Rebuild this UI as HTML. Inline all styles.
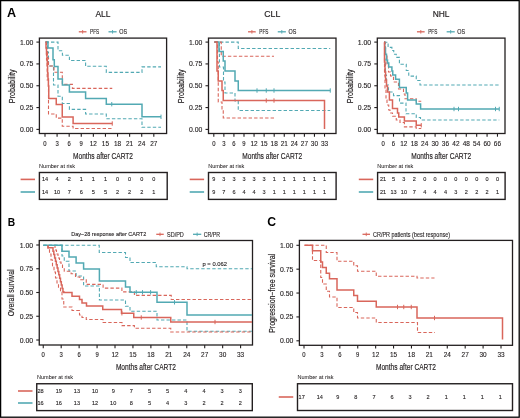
<!DOCTYPE html>
<html><head><meta charset="utf-8"><style>
html,body{margin:0;padding:0;background:#fff;width:520px;height:418px;overflow:hidden;}
body{position:relative;font-family:"Liberation Sans", sans-serif;}
svg{will-change:transform;}
</style></head><body>
<svg width="520" height="418" viewBox="0 0 520 418" style="position:absolute;left:0;top:0">
<g font-family='"Liberation Sans", sans-serif'>
<rect x="0.6" y="0.6" width="518.6" height="416.6" fill="none" stroke="#000" stroke-width="1.3"/>
<text x="7.1" y="13.0" font-size="12.0" text-anchor="start" font-weight="bold" fill="#000" stroke="#000" stroke-width="0" textLength="9.1" lengthAdjust="spacingAndGlyphs" dominant-baseline="central">A</text>
<text x="7.7" y="221.7" font-size="11.6" text-anchor="start" font-weight="bold" fill="#000" stroke="#000" stroke-width="0" textLength="7.4" lengthAdjust="spacingAndGlyphs" dominant-baseline="central">B</text>
<text x="267.2" y="221.6" font-size="12.2" text-anchor="start" font-weight="bold" fill="#000" stroke="#000" stroke-width="0" dominant-baseline="central">C</text>
<text x="103.0" y="14.3" font-size="8.8" text-anchor="middle" font-weight="normal" fill="#231f20" stroke="#231f20" stroke-width="0.18" textLength="15" lengthAdjust="spacingAndGlyphs" dominant-baseline="central">ALL</text>
<line x1="78.8" y1="31.8" x2="86.5" y2="31.8" stroke="#d9665b" stroke-width="1.3"/>
<line x1="82.65" y1="30.0" x2="82.65" y2="33.6" stroke="#d9665b" stroke-width="0.9"/>
<text x="90.0" y="31.8" font-size="6.6" text-anchor="start" font-weight="normal" fill="#231f20" stroke="#231f20" stroke-width="0.12" textLength="9.2" lengthAdjust="spacingAndGlyphs" dominant-baseline="central">PFS</text>
<line x1="108.5" y1="31.8" x2="116.6" y2="31.8" stroke="#52a9b3" stroke-width="1.3"/>
<line x1="112.55" y1="30.0" x2="112.55" y2="33.6" stroke="#52a9b3" stroke-width="0.9"/>
<text x="119.2" y="31.8" font-size="6.6" text-anchor="start" font-weight="normal" fill="#231f20" stroke="#231f20" stroke-width="0.12" textLength="7.8" lengthAdjust="spacingAndGlyphs" dominant-baseline="central">OS</text>
<rect x="39.4" y="38.1" width="127.19999999999999" height="95.4" fill="none" stroke="#231f20" stroke-width="1.3"/>
<line x1="36.4" y1="42.1" x2="39.4" y2="42.1" stroke="#231f20" stroke-width="1.1"/>
<text x="33.3" y="42.1" font-size="6.3" text-anchor="end" font-weight="normal" fill="#231f20" stroke="#231f20" stroke-width="0.12" textLength="13.4" lengthAdjust="spacingAndGlyphs" dominant-baseline="central">1.00</text>
<line x1="36.4" y1="63.925000000000004" x2="39.4" y2="63.925000000000004" stroke="#231f20" stroke-width="1.1"/>
<text x="33.3" y="63.925000000000004" font-size="6.3" text-anchor="end" font-weight="normal" fill="#231f20" stroke="#231f20" stroke-width="0.12" textLength="13.4" lengthAdjust="spacingAndGlyphs" dominant-baseline="central">0.75</text>
<line x1="36.4" y1="85.75" x2="39.4" y2="85.75" stroke="#231f20" stroke-width="1.1"/>
<text x="33.3" y="85.75" font-size="6.3" text-anchor="end" font-weight="normal" fill="#231f20" stroke="#231f20" stroke-width="0.12" textLength="13.4" lengthAdjust="spacingAndGlyphs" dominant-baseline="central">0.50</text>
<line x1="36.4" y1="107.57500000000002" x2="39.4" y2="107.57500000000002" stroke="#231f20" stroke-width="1.1"/>
<text x="33.3" y="107.57500000000002" font-size="6.3" text-anchor="end" font-weight="normal" fill="#231f20" stroke="#231f20" stroke-width="0.12" textLength="13.4" lengthAdjust="spacingAndGlyphs" dominant-baseline="central">0.25</text>
<line x1="36.4" y1="129.4" x2="39.4" y2="129.4" stroke="#231f20" stroke-width="1.1"/>
<text x="33.3" y="129.4" font-size="6.3" text-anchor="end" font-weight="normal" fill="#231f20" stroke="#231f20" stroke-width="0.12" textLength="13.4" lengthAdjust="spacingAndGlyphs" dominant-baseline="central">0.00</text>
<line x1="45.0" y1="133.5" x2="45.0" y2="136.7" stroke="#231f20" stroke-width="1.1"/>
<text x="45.0" y="143.3" font-size="6.3" text-anchor="middle" font-weight="normal" fill="#231f20" stroke="#231f20" stroke-width="0.12" textLength="3.3" lengthAdjust="spacingAndGlyphs" dominant-baseline="central">0</text>
<line x1="57.09" y1="133.5" x2="57.09" y2="136.7" stroke="#231f20" stroke-width="1.1"/>
<text x="57.09" y="143.3" font-size="6.3" text-anchor="middle" font-weight="normal" fill="#231f20" stroke="#231f20" stroke-width="0.12" textLength="3.3" lengthAdjust="spacingAndGlyphs" dominant-baseline="central">3</text>
<line x1="69.18" y1="133.5" x2="69.18" y2="136.7" stroke="#231f20" stroke-width="1.1"/>
<text x="69.18" y="143.3" font-size="6.3" text-anchor="middle" font-weight="normal" fill="#231f20" stroke="#231f20" stroke-width="0.12" textLength="3.3" lengthAdjust="spacingAndGlyphs" dominant-baseline="central">6</text>
<line x1="81.27000000000001" y1="133.5" x2="81.27000000000001" y2="136.7" stroke="#231f20" stroke-width="1.1"/>
<text x="81.27000000000001" y="143.3" font-size="6.3" text-anchor="middle" font-weight="normal" fill="#231f20" stroke="#231f20" stroke-width="0.12" textLength="3.3" lengthAdjust="spacingAndGlyphs" dominant-baseline="central">9</text>
<line x1="93.36" y1="133.5" x2="93.36" y2="136.7" stroke="#231f20" stroke-width="1.1"/>
<text x="93.36" y="143.3" font-size="6.3" text-anchor="middle" font-weight="normal" fill="#231f20" stroke="#231f20" stroke-width="0.12" textLength="7.2" lengthAdjust="spacingAndGlyphs" dominant-baseline="central">12</text>
<line x1="105.45" y1="133.5" x2="105.45" y2="136.7" stroke="#231f20" stroke-width="1.1"/>
<text x="105.45" y="143.3" font-size="6.3" text-anchor="middle" font-weight="normal" fill="#231f20" stroke="#231f20" stroke-width="0.12" textLength="7.2" lengthAdjust="spacingAndGlyphs" dominant-baseline="central">15</text>
<line x1="117.54" y1="133.5" x2="117.54" y2="136.7" stroke="#231f20" stroke-width="1.1"/>
<text x="117.54" y="143.3" font-size="6.3" text-anchor="middle" font-weight="normal" fill="#231f20" stroke="#231f20" stroke-width="0.12" textLength="7.2" lengthAdjust="spacingAndGlyphs" dominant-baseline="central">18</text>
<line x1="129.63" y1="133.5" x2="129.63" y2="136.7" stroke="#231f20" stroke-width="1.1"/>
<text x="129.63" y="143.3" font-size="6.3" text-anchor="middle" font-weight="normal" fill="#231f20" stroke="#231f20" stroke-width="0.12" textLength="7.2" lengthAdjust="spacingAndGlyphs" dominant-baseline="central">21</text>
<line x1="141.72" y1="133.5" x2="141.72" y2="136.7" stroke="#231f20" stroke-width="1.1"/>
<text x="141.72" y="143.3" font-size="6.3" text-anchor="middle" font-weight="normal" fill="#231f20" stroke="#231f20" stroke-width="0.12" textLength="7.2" lengthAdjust="spacingAndGlyphs" dominant-baseline="central">24</text>
<line x1="153.81" y1="133.5" x2="153.81" y2="136.7" stroke="#231f20" stroke-width="1.1"/>
<text x="153.81" y="143.3" font-size="6.3" text-anchor="middle" font-weight="normal" fill="#231f20" stroke="#231f20" stroke-width="0.12" textLength="7.2" lengthAdjust="spacingAndGlyphs" dominant-baseline="central">27</text>
<text x="103.0" y="155.4" font-size="9.7" text-anchor="middle" font-weight="normal" fill="#231f20" stroke="#231f20" stroke-width="0.18" textLength="60" lengthAdjust="spacingAndGlyphs" dominant-baseline="central">Months after CART2</text>
<text x="12.2" y="86.3" font-size="8.2" text-anchor="middle" font-weight="normal" fill="#231f20" stroke="#231f20" stroke-width="0.18" textLength="33.7" lengthAdjust="spacingAndGlyphs" transform="rotate(-90 12.2 86.3)" dominant-baseline="central">Probability</text>
<text x="272.25" y="14.3" font-size="8.8" text-anchor="middle" font-weight="normal" fill="#231f20" stroke="#231f20" stroke-width="0.18" textLength="16" lengthAdjust="spacingAndGlyphs" dominant-baseline="central">CLL</text>
<line x1="248.05" y1="31.8" x2="255.75" y2="31.8" stroke="#d9665b" stroke-width="1.3"/>
<line x1="251.9" y1="30.0" x2="251.9" y2="33.6" stroke="#d9665b" stroke-width="0.9"/>
<text x="259.25" y="31.8" font-size="6.6" text-anchor="start" font-weight="normal" fill="#231f20" stroke="#231f20" stroke-width="0.12" textLength="9.2" lengthAdjust="spacingAndGlyphs" dominant-baseline="central">PFS</text>
<line x1="277.75" y1="31.8" x2="285.85" y2="31.8" stroke="#52a9b3" stroke-width="1.3"/>
<line x1="281.8" y1="30.0" x2="281.8" y2="33.6" stroke="#52a9b3" stroke-width="0.9"/>
<text x="288.45" y="31.8" font-size="6.6" text-anchor="start" font-weight="normal" fill="#231f20" stroke="#231f20" stroke-width="0.12" textLength="7.8" lengthAdjust="spacingAndGlyphs" dominant-baseline="central">OS</text>
<rect x="208.5" y="38.1" width="127.5" height="95.4" fill="none" stroke="#231f20" stroke-width="1.3"/>
<line x1="205.5" y1="42.1" x2="208.5" y2="42.1" stroke="#231f20" stroke-width="1.1"/>
<text x="202.4" y="42.1" font-size="6.3" text-anchor="end" font-weight="normal" fill="#231f20" stroke="#231f20" stroke-width="0.12" textLength="13.4" lengthAdjust="spacingAndGlyphs" dominant-baseline="central">1.00</text>
<line x1="205.5" y1="63.925000000000004" x2="208.5" y2="63.925000000000004" stroke="#231f20" stroke-width="1.1"/>
<text x="202.4" y="63.925000000000004" font-size="6.3" text-anchor="end" font-weight="normal" fill="#231f20" stroke="#231f20" stroke-width="0.12" textLength="13.4" lengthAdjust="spacingAndGlyphs" dominant-baseline="central">0.75</text>
<line x1="205.5" y1="85.75" x2="208.5" y2="85.75" stroke="#231f20" stroke-width="1.1"/>
<text x="202.4" y="85.75" font-size="6.3" text-anchor="end" font-weight="normal" fill="#231f20" stroke="#231f20" stroke-width="0.12" textLength="13.4" lengthAdjust="spacingAndGlyphs" dominant-baseline="central">0.50</text>
<line x1="205.5" y1="107.57500000000002" x2="208.5" y2="107.57500000000002" stroke="#231f20" stroke-width="1.1"/>
<text x="202.4" y="107.57500000000002" font-size="6.3" text-anchor="end" font-weight="normal" fill="#231f20" stroke="#231f20" stroke-width="0.12" textLength="13.4" lengthAdjust="spacingAndGlyphs" dominant-baseline="central">0.25</text>
<line x1="205.5" y1="129.4" x2="208.5" y2="129.4" stroke="#231f20" stroke-width="1.1"/>
<text x="202.4" y="129.4" font-size="6.3" text-anchor="end" font-weight="normal" fill="#231f20" stroke="#231f20" stroke-width="0.12" textLength="13.4" lengthAdjust="spacingAndGlyphs" dominant-baseline="central">0.00</text>
<line x1="213.8" y1="133.5" x2="213.8" y2="136.7" stroke="#231f20" stroke-width="1.1"/>
<text x="213.8" y="143.3" font-size="6.3" text-anchor="middle" font-weight="normal" fill="#231f20" stroke="#231f20" stroke-width="0.12" textLength="3.3" lengthAdjust="spacingAndGlyphs" dominant-baseline="central">0</text>
<line x1="223.865" y1="133.5" x2="223.865" y2="136.7" stroke="#231f20" stroke-width="1.1"/>
<text x="223.865" y="143.3" font-size="6.3" text-anchor="middle" font-weight="normal" fill="#231f20" stroke="#231f20" stroke-width="0.12" textLength="3.3" lengthAdjust="spacingAndGlyphs" dominant-baseline="central">3</text>
<line x1="233.93" y1="133.5" x2="233.93" y2="136.7" stroke="#231f20" stroke-width="1.1"/>
<text x="233.93" y="143.3" font-size="6.3" text-anchor="middle" font-weight="normal" fill="#231f20" stroke="#231f20" stroke-width="0.12" textLength="3.3" lengthAdjust="spacingAndGlyphs" dominant-baseline="central">6</text>
<line x1="243.995" y1="133.5" x2="243.995" y2="136.7" stroke="#231f20" stroke-width="1.1"/>
<text x="243.995" y="143.3" font-size="6.3" text-anchor="middle" font-weight="normal" fill="#231f20" stroke="#231f20" stroke-width="0.12" textLength="3.3" lengthAdjust="spacingAndGlyphs" dominant-baseline="central">9</text>
<line x1="254.06" y1="133.5" x2="254.06" y2="136.7" stroke="#231f20" stroke-width="1.1"/>
<text x="254.06" y="143.3" font-size="6.3" text-anchor="middle" font-weight="normal" fill="#231f20" stroke="#231f20" stroke-width="0.12" textLength="7.2" lengthAdjust="spacingAndGlyphs" dominant-baseline="central">12</text>
<line x1="264.125" y1="133.5" x2="264.125" y2="136.7" stroke="#231f20" stroke-width="1.1"/>
<text x="264.125" y="143.3" font-size="6.3" text-anchor="middle" font-weight="normal" fill="#231f20" stroke="#231f20" stroke-width="0.12" textLength="7.2" lengthAdjust="spacingAndGlyphs" dominant-baseline="central">15</text>
<line x1="274.19" y1="133.5" x2="274.19" y2="136.7" stroke="#231f20" stroke-width="1.1"/>
<text x="274.19" y="143.3" font-size="6.3" text-anchor="middle" font-weight="normal" fill="#231f20" stroke="#231f20" stroke-width="0.12" textLength="7.2" lengthAdjust="spacingAndGlyphs" dominant-baseline="central">18</text>
<line x1="284.255" y1="133.5" x2="284.255" y2="136.7" stroke="#231f20" stroke-width="1.1"/>
<text x="284.255" y="143.3" font-size="6.3" text-anchor="middle" font-weight="normal" fill="#231f20" stroke="#231f20" stroke-width="0.12" textLength="7.2" lengthAdjust="spacingAndGlyphs" dominant-baseline="central">21</text>
<line x1="294.32" y1="133.5" x2="294.32" y2="136.7" stroke="#231f20" stroke-width="1.1"/>
<text x="294.32" y="143.3" font-size="6.3" text-anchor="middle" font-weight="normal" fill="#231f20" stroke="#231f20" stroke-width="0.12" textLength="7.2" lengthAdjust="spacingAndGlyphs" dominant-baseline="central">24</text>
<line x1="304.385" y1="133.5" x2="304.385" y2="136.7" stroke="#231f20" stroke-width="1.1"/>
<text x="304.385" y="143.3" font-size="6.3" text-anchor="middle" font-weight="normal" fill="#231f20" stroke="#231f20" stroke-width="0.12" textLength="7.2" lengthAdjust="spacingAndGlyphs" dominant-baseline="central">27</text>
<line x1="314.45000000000005" y1="133.5" x2="314.45000000000005" y2="136.7" stroke="#231f20" stroke-width="1.1"/>
<text x="314.45000000000005" y="143.3" font-size="6.3" text-anchor="middle" font-weight="normal" fill="#231f20" stroke="#231f20" stroke-width="0.12" textLength="7.2" lengthAdjust="spacingAndGlyphs" dominant-baseline="central">30</text>
<line x1="324.515" y1="133.5" x2="324.515" y2="136.7" stroke="#231f20" stroke-width="1.1"/>
<text x="324.515" y="143.3" font-size="6.3" text-anchor="middle" font-weight="normal" fill="#231f20" stroke="#231f20" stroke-width="0.12" textLength="7.2" lengthAdjust="spacingAndGlyphs" dominant-baseline="central">33</text>
<text x="272.25" y="155.4" font-size="9.7" text-anchor="middle" font-weight="normal" fill="#231f20" stroke="#231f20" stroke-width="0.18" textLength="60" lengthAdjust="spacingAndGlyphs" dominant-baseline="central">Months after CART2</text>
<text x="181.3" y="86.3" font-size="8.2" text-anchor="middle" font-weight="normal" fill="#231f20" stroke="#231f20" stroke-width="0.18" textLength="33.7" lengthAdjust="spacingAndGlyphs" transform="rotate(-90 181.3 86.3)" dominant-baseline="central">Probability</text>
<text x="441.15" y="14.3" font-size="8.8" text-anchor="middle" font-weight="normal" fill="#231f20" stroke="#231f20" stroke-width="0.18" textLength="16.8" lengthAdjust="spacingAndGlyphs" dominant-baseline="central">NHL</text>
<line x1="416.95" y1="31.8" x2="424.65" y2="31.8" stroke="#d9665b" stroke-width="1.3"/>
<line x1="420.79999999999995" y1="30.0" x2="420.79999999999995" y2="33.6" stroke="#d9665b" stroke-width="0.9"/>
<text x="428.15" y="31.8" font-size="6.6" text-anchor="start" font-weight="normal" fill="#231f20" stroke="#231f20" stroke-width="0.12" textLength="9.2" lengthAdjust="spacingAndGlyphs" dominant-baseline="central">PFS</text>
<line x1="446.65" y1="31.8" x2="454.75" y2="31.8" stroke="#52a9b3" stroke-width="1.3"/>
<line x1="450.7" y1="30.0" x2="450.7" y2="33.6" stroke="#52a9b3" stroke-width="0.9"/>
<text x="457.34999999999997" y="31.8" font-size="6.6" text-anchor="start" font-weight="normal" fill="#231f20" stroke="#231f20" stroke-width="0.12" textLength="7.8" lengthAdjust="spacingAndGlyphs" dominant-baseline="central">OS</text>
<rect x="377.3" y="38.1" width="127.69999999999999" height="95.4" fill="none" stroke="#231f20" stroke-width="1.3"/>
<line x1="374.3" y1="42.1" x2="377.3" y2="42.1" stroke="#231f20" stroke-width="1.1"/>
<text x="371.2" y="42.1" font-size="6.3" text-anchor="end" font-weight="normal" fill="#231f20" stroke="#231f20" stroke-width="0.12" textLength="13.4" lengthAdjust="spacingAndGlyphs" dominant-baseline="central">1.00</text>
<line x1="374.3" y1="63.925000000000004" x2="377.3" y2="63.925000000000004" stroke="#231f20" stroke-width="1.1"/>
<text x="371.2" y="63.925000000000004" font-size="6.3" text-anchor="end" font-weight="normal" fill="#231f20" stroke="#231f20" stroke-width="0.12" textLength="13.4" lengthAdjust="spacingAndGlyphs" dominant-baseline="central">0.75</text>
<line x1="374.3" y1="85.75" x2="377.3" y2="85.75" stroke="#231f20" stroke-width="1.1"/>
<text x="371.2" y="85.75" font-size="6.3" text-anchor="end" font-weight="normal" fill="#231f20" stroke="#231f20" stroke-width="0.12" textLength="13.4" lengthAdjust="spacingAndGlyphs" dominant-baseline="central">0.50</text>
<line x1="374.3" y1="107.57500000000002" x2="377.3" y2="107.57500000000002" stroke="#231f20" stroke-width="1.1"/>
<text x="371.2" y="107.57500000000002" font-size="6.3" text-anchor="end" font-weight="normal" fill="#231f20" stroke="#231f20" stroke-width="0.12" textLength="13.4" lengthAdjust="spacingAndGlyphs" dominant-baseline="central">0.25</text>
<line x1="374.3" y1="129.4" x2="377.3" y2="129.4" stroke="#231f20" stroke-width="1.1"/>
<text x="371.2" y="129.4" font-size="6.3" text-anchor="end" font-weight="normal" fill="#231f20" stroke="#231f20" stroke-width="0.12" textLength="13.4" lengthAdjust="spacingAndGlyphs" dominant-baseline="central">0.00</text>
<line x1="383.1" y1="133.5" x2="383.1" y2="136.7" stroke="#231f20" stroke-width="1.1"/>
<text x="383.1" y="143.3" font-size="6.3" text-anchor="middle" font-weight="normal" fill="#231f20" stroke="#231f20" stroke-width="0.12" textLength="3.3" lengthAdjust="spacingAndGlyphs" dominant-baseline="central">0</text>
<line x1="393.49800000000005" y1="133.5" x2="393.49800000000005" y2="136.7" stroke="#231f20" stroke-width="1.1"/>
<text x="393.49800000000005" y="143.3" font-size="6.3" text-anchor="middle" font-weight="normal" fill="#231f20" stroke="#231f20" stroke-width="0.12" textLength="3.3" lengthAdjust="spacingAndGlyphs" dominant-baseline="central">6</text>
<line x1="403.896" y1="133.5" x2="403.896" y2="136.7" stroke="#231f20" stroke-width="1.1"/>
<text x="403.896" y="143.3" font-size="6.3" text-anchor="middle" font-weight="normal" fill="#231f20" stroke="#231f20" stroke-width="0.12" textLength="7.2" lengthAdjust="spacingAndGlyphs" dominant-baseline="central">12</text>
<line x1="414.29400000000004" y1="133.5" x2="414.29400000000004" y2="136.7" stroke="#231f20" stroke-width="1.1"/>
<text x="414.29400000000004" y="143.3" font-size="6.3" text-anchor="middle" font-weight="normal" fill="#231f20" stroke="#231f20" stroke-width="0.12" textLength="7.2" lengthAdjust="spacingAndGlyphs" dominant-baseline="central">18</text>
<line x1="424.692" y1="133.5" x2="424.692" y2="136.7" stroke="#231f20" stroke-width="1.1"/>
<text x="424.692" y="143.3" font-size="6.3" text-anchor="middle" font-weight="normal" fill="#231f20" stroke="#231f20" stroke-width="0.12" textLength="7.2" lengthAdjust="spacingAndGlyphs" dominant-baseline="central">24</text>
<line x1="435.09000000000003" y1="133.5" x2="435.09000000000003" y2="136.7" stroke="#231f20" stroke-width="1.1"/>
<text x="435.09000000000003" y="143.3" font-size="6.3" text-anchor="middle" font-weight="normal" fill="#231f20" stroke="#231f20" stroke-width="0.12" textLength="7.2" lengthAdjust="spacingAndGlyphs" dominant-baseline="central">30</text>
<line x1="445.48800000000006" y1="133.5" x2="445.48800000000006" y2="136.7" stroke="#231f20" stroke-width="1.1"/>
<text x="445.48800000000006" y="143.3" font-size="6.3" text-anchor="middle" font-weight="normal" fill="#231f20" stroke="#231f20" stroke-width="0.12" textLength="7.2" lengthAdjust="spacingAndGlyphs" dominant-baseline="central">36</text>
<line x1="455.886" y1="133.5" x2="455.886" y2="136.7" stroke="#231f20" stroke-width="1.1"/>
<text x="455.886" y="143.3" font-size="6.3" text-anchor="middle" font-weight="normal" fill="#231f20" stroke="#231f20" stroke-width="0.12" textLength="7.2" lengthAdjust="spacingAndGlyphs" dominant-baseline="central">42</text>
<line x1="466.284" y1="133.5" x2="466.284" y2="136.7" stroke="#231f20" stroke-width="1.1"/>
<text x="466.284" y="143.3" font-size="6.3" text-anchor="middle" font-weight="normal" fill="#231f20" stroke="#231f20" stroke-width="0.12" textLength="7.2" lengthAdjust="spacingAndGlyphs" dominant-baseline="central">48</text>
<line x1="476.682" y1="133.5" x2="476.682" y2="136.7" stroke="#231f20" stroke-width="1.1"/>
<text x="476.682" y="143.3" font-size="6.3" text-anchor="middle" font-weight="normal" fill="#231f20" stroke="#231f20" stroke-width="0.12" textLength="7.2" lengthAdjust="spacingAndGlyphs" dominant-baseline="central">54</text>
<line x1="487.08000000000004" y1="133.5" x2="487.08000000000004" y2="136.7" stroke="#231f20" stroke-width="1.1"/>
<text x="487.08000000000004" y="143.3" font-size="6.3" text-anchor="middle" font-weight="normal" fill="#231f20" stroke="#231f20" stroke-width="0.12" textLength="7.2" lengthAdjust="spacingAndGlyphs" dominant-baseline="central">60</text>
<line x1="497.478" y1="133.5" x2="497.478" y2="136.7" stroke="#231f20" stroke-width="1.1"/>
<text x="497.478" y="143.3" font-size="6.3" text-anchor="middle" font-weight="normal" fill="#231f20" stroke="#231f20" stroke-width="0.12" textLength="7.2" lengthAdjust="spacingAndGlyphs" dominant-baseline="central">66</text>
<text x="441.15" y="155.4" font-size="9.7" text-anchor="middle" font-weight="normal" fill="#231f20" stroke="#231f20" stroke-width="0.18" textLength="60" lengthAdjust="spacingAndGlyphs" dominant-baseline="central">Months after CART2</text>
<text x="350.1" y="86.3" font-size="8.2" text-anchor="middle" font-weight="normal" fill="#231f20" stroke="#231f20" stroke-width="0.18" textLength="33.7" lengthAdjust="spacingAndGlyphs" transform="rotate(-90 350.1 86.3)" dominant-baseline="central">Probability</text>
<path d="M45.5,42.1 H47.5 V52 H48.5 V66 H53.5 V85 H58 V96.3 H62.3 V103.5 H69.4 V109.4 H85.6 V114 H106.3 V118.7 H142 V127.3 H161" fill="none" stroke="#52a9b3" stroke-width="1.1" stroke-dasharray="3.4 2.1"/>
<path d="M45.5,42.1 H58 V50.75 H62.4 V55.2 H69.4 V60.5 H85.6 V66.3 H106.3 V72.4 H142 V66.9 H161" fill="none" stroke="#52a9b3" stroke-width="1.1" stroke-dasharray="3.4 2.1"/>
<path d="M46,42.1 H46.5 V50 H47.5 V58 H48.5 V66 H54 V72.2 H62.3 V84.4 H72.4 V88.4 H112.25" fill="none" stroke="#d9665b" stroke-width="1.1" stroke-dasharray="3.4 2.1"/>
<path d="M46,42.1 H46.5 V60 H47.2 V80 H48.5 V114 H56.25 V118.1 H62.25 V126.25 H73.1 V128.5 H112.25" fill="none" stroke="#d9665b" stroke-width="1.1" stroke-dasharray="3.4 2.1"/>
<path d="M45.5,42.1 H48 V48.1 H53 V59.8 H54.3 V66.6 H58 V79 H62.4 V85 H69.4 V92.1 H85.6 V98.5 H106.3 V104.2 H142 V116.8 H161" fill="none" stroke="#52a9b3" stroke-width="1.5"/>
<line x1="111.75" y1="102.0" x2="111.75" y2="106.4" stroke="#52a9b3" stroke-width="1.0"/>
<line x1="161" y1="114.6" x2="161" y2="119.0" stroke="#52a9b3" stroke-width="1.0"/>
<path d="M45.5,42.1 H46 V48 H46.5 V54 H47 V60 H47.3 V66 H47.6 V73 H48 V79 H48.4 V86 H48.75 V98.5 H56.25 V104.4 H62.25 V117.1 H73.1 V123.5 H112.25" fill="none" stroke="#d9665b" stroke-width="1.5"/>
<line x1="112.25" y1="121.3" x2="112.25" y2="125.7" stroke="#d9665b" stroke-width="1.0"/>
<path d="M214.5,42.1 H219.4 V67 H223.5 V82 H225 V93 H235 V101 H238.25 V110.5 H330.25" fill="none" stroke="#52a9b3" stroke-width="1.1" stroke-dasharray="3.4 2.1"/>
<path d="M214.5,42.1 H238.25 V48.5 H330.25" fill="none" stroke="#52a9b3" stroke-width="1.1" stroke-dasharray="3.4 2.1"/>
<path d="M214.5,42.1 H221.25 V56.2 H274" fill="none" stroke="#d9665b" stroke-width="1.1" stroke-dasharray="3.4 2.1"/>
<path d="M214.5,42.1 H217.5 V62 H218.25 V102 H222 V110 H223.25 V118 H274" fill="none" stroke="#d9665b" stroke-width="1.1" stroke-dasharray="3.4 2.1"/>
<path d="M214.5,42.1 H219 V51.5 H223.25 V61 H225 V71 H235 V81 H238.25 V90.5 H330.25" fill="none" stroke="#52a9b3" stroke-width="1.5"/>
<line x1="257" y1="88.3" x2="257" y2="92.7" stroke="#52a9b3" stroke-width="1.0"/>
<line x1="266.25" y1="88.3" x2="266.25" y2="92.7" stroke="#52a9b3" stroke-width="1.0"/>
<line x1="274" y1="88.3" x2="274" y2="92.7" stroke="#52a9b3" stroke-width="1.0"/>
<line x1="330.25" y1="88.3" x2="330.25" y2="92.7" stroke="#52a9b3" stroke-width="1.0"/>
<path d="M214.5,42.1 H217 V71 H218.25 V81 H222 V90.5 H223.25 V100.5 H324.5 V129" fill="none" stroke="#d9665b" stroke-width="1.5"/>
<line x1="266.25" y1="98.3" x2="266.25" y2="102.7" stroke="#d9665b" stroke-width="1.0"/>
<line x1="274" y1="98.3" x2="274" y2="102.7" stroke="#d9665b" stroke-width="1.0"/>
<path d="M384,42.2 H384.75 V60 H385.5 V75 H386.5 V85 H388.5 V92 H393.5 V95.6 H399.5 V103.1 H406 V113.75 H416.25 V117.5 H420.5 V120 H499.25" fill="none" stroke="#52a9b3" stroke-width="1.1" stroke-dasharray="3.4 2.1"/>
<path d="M384,42.2 H388.1 V47.4 H391.9 V50.5 H393.75 V54.25 H396.25 V57.4 H399.4 V64.25 H406.25 V70.5 H408.75 V76.1 H416.25 V80.5 H420 V85 H499.25" fill="none" stroke="#52a9b3" stroke-width="1.1" stroke-dasharray="3.4 2.1"/>
<path d="M384,42.2 H385.5 V56 H387 V66 H388.5 V72 H390.5 V76 H393.5 V82 H398.5 V89 H403.5 V94 H405 V98.75 H416.25 V101.25 H421.25" fill="none" stroke="#d9665b" stroke-width="1.1" stroke-dasharray="3.4 2.1"/>
<path d="M384,42.2 H384.5 V75 H385 V90 H386 V100 H387 V105 H388.75 V110 H390 V113 H392.5 V116.25 H396.25 V120 H400 V122.5 H404.4 V126.9 H416.25 V128.5 H421.25" fill="none" stroke="#d9665b" stroke-width="1.1" stroke-dasharray="3.4 2.1"/>
<path d="M384,42.2 H384.75 V48 H385.5 V54.25 H386.5 V60 H387.5 V63 H388.75 V67 H391.9 V71.1 H392.75 V75 H395.6 V79.25 H399.4 V87.5 H406.25 V93 H407.6 V100 H416.25 V104.1 H420.6 V109 H499.25" fill="none" stroke="#52a9b3" stroke-width="1.5"/>
<line x1="454" y1="106.8" x2="454" y2="111.2" stroke="#52a9b3" stroke-width="1.0"/>
<line x1="458.5" y1="106.8" x2="458.5" y2="111.2" stroke="#52a9b3" stroke-width="1.0"/>
<line x1="495.5" y1="106.8" x2="495.5" y2="111.2" stroke="#52a9b3" stroke-width="1.0"/>
<line x1="499.25" y1="106.8" x2="499.25" y2="111.2" stroke="#52a9b3" stroke-width="1.0"/>
<path d="M384,42.2 H384.5 V62 H385 V72 H385.6 V80 H386.5 V86 H387.5 V92 H389.4 V100 H392.5 V108.5 H397.5 V113 H398.75 V116.9 H404.4 V121 H416.25 V125.25 H421.25" fill="none" stroke="#d9665b" stroke-width="1.5"/>
<line x1="421.25" y1="123.05" x2="421.25" y2="127.45" stroke="#d9665b" stroke-width="1.0"/>
<text x="39.1" y="166.3" font-size="5.4" text-anchor="start" font-weight="normal" fill="#231f20" stroke="#231f20" stroke-width="0.04" textLength="36" lengthAdjust="spacingAndGlyphs" dominant-baseline="central">Number at risk</text>
<rect x="39.4" y="172.5" width="127.79999999999998" height="26.900000000000006" fill="none" stroke="#231f20" stroke-width="1.4"/>
<line x1="20.599999999999998" y1="179.4" x2="35.0" y2="179.4" stroke="#d9665b" stroke-width="1.6"/>
<text x="45.0" y="178.8" font-size="6.2" text-anchor="middle" font-weight="normal" fill="#231f20" stroke="#231f20" stroke-width="0.12" textLength="6.2" lengthAdjust="spacingAndGlyphs" dominant-baseline="central">14</text>
<text x="57.09" y="178.8" font-size="6.2" text-anchor="middle" font-weight="normal" fill="#231f20" stroke="#231f20" stroke-width="0.12" textLength="3.1" lengthAdjust="spacingAndGlyphs" dominant-baseline="central">4</text>
<text x="69.18" y="178.8" font-size="6.2" text-anchor="middle" font-weight="normal" fill="#231f20" stroke="#231f20" stroke-width="0.12" textLength="3.1" lengthAdjust="spacingAndGlyphs" dominant-baseline="central">2</text>
<text x="81.27000000000001" y="178.8" font-size="6.2" text-anchor="middle" font-weight="normal" fill="#231f20" stroke="#231f20" stroke-width="0.12" textLength="3.1" lengthAdjust="spacingAndGlyphs" dominant-baseline="central">1</text>
<text x="93.36" y="178.8" font-size="6.2" text-anchor="middle" font-weight="normal" fill="#231f20" stroke="#231f20" stroke-width="0.12" textLength="3.1" lengthAdjust="spacingAndGlyphs" dominant-baseline="central">1</text>
<text x="105.45" y="178.8" font-size="6.2" text-anchor="middle" font-weight="normal" fill="#231f20" stroke="#231f20" stroke-width="0.12" textLength="3.1" lengthAdjust="spacingAndGlyphs" dominant-baseline="central">1</text>
<text x="117.54" y="178.8" font-size="6.2" text-anchor="middle" font-weight="normal" fill="#231f20" stroke="#231f20" stroke-width="0.12" textLength="3.1" lengthAdjust="spacingAndGlyphs" dominant-baseline="central">0</text>
<text x="129.63" y="178.8" font-size="6.2" text-anchor="middle" font-weight="normal" fill="#231f20" stroke="#231f20" stroke-width="0.12" textLength="3.1" lengthAdjust="spacingAndGlyphs" dominant-baseline="central">0</text>
<text x="141.72" y="178.8" font-size="6.2" text-anchor="middle" font-weight="normal" fill="#231f20" stroke="#231f20" stroke-width="0.12" textLength="3.1" lengthAdjust="spacingAndGlyphs" dominant-baseline="central">0</text>
<text x="153.81" y="178.8" font-size="6.2" text-anchor="middle" font-weight="normal" fill="#231f20" stroke="#231f20" stroke-width="0.12" textLength="3.1" lengthAdjust="spacingAndGlyphs" dominant-baseline="central">0</text>
<line x1="20.599999999999998" y1="192.0" x2="35.0" y2="192.0" stroke="#52a9b3" stroke-width="1.6"/>
<text x="45.0" y="191.4" font-size="6.2" text-anchor="middle" font-weight="normal" fill="#231f20" stroke="#231f20" stroke-width="0.12" textLength="6.2" lengthAdjust="spacingAndGlyphs" dominant-baseline="central">14</text>
<text x="57.09" y="191.4" font-size="6.2" text-anchor="middle" font-weight="normal" fill="#231f20" stroke="#231f20" stroke-width="0.12" textLength="6.2" lengthAdjust="spacingAndGlyphs" dominant-baseline="central">10</text>
<text x="69.18" y="191.4" font-size="6.2" text-anchor="middle" font-weight="normal" fill="#231f20" stroke="#231f20" stroke-width="0.12" textLength="3.1" lengthAdjust="spacingAndGlyphs" dominant-baseline="central">7</text>
<text x="81.27000000000001" y="191.4" font-size="6.2" text-anchor="middle" font-weight="normal" fill="#231f20" stroke="#231f20" stroke-width="0.12" textLength="3.1" lengthAdjust="spacingAndGlyphs" dominant-baseline="central">6</text>
<text x="93.36" y="191.4" font-size="6.2" text-anchor="middle" font-weight="normal" fill="#231f20" stroke="#231f20" stroke-width="0.12" textLength="3.1" lengthAdjust="spacingAndGlyphs" dominant-baseline="central">5</text>
<text x="105.45" y="191.4" font-size="6.2" text-anchor="middle" font-weight="normal" fill="#231f20" stroke="#231f20" stroke-width="0.12" textLength="3.1" lengthAdjust="spacingAndGlyphs" dominant-baseline="central">5</text>
<text x="117.54" y="191.4" font-size="6.2" text-anchor="middle" font-weight="normal" fill="#231f20" stroke="#231f20" stroke-width="0.12" textLength="3.1" lengthAdjust="spacingAndGlyphs" dominant-baseline="central">2</text>
<text x="129.63" y="191.4" font-size="6.2" text-anchor="middle" font-weight="normal" fill="#231f20" stroke="#231f20" stroke-width="0.12" textLength="3.1" lengthAdjust="spacingAndGlyphs" dominant-baseline="central">2</text>
<text x="141.72" y="191.4" font-size="6.2" text-anchor="middle" font-weight="normal" fill="#231f20" stroke="#231f20" stroke-width="0.12" textLength="3.1" lengthAdjust="spacingAndGlyphs" dominant-baseline="central">2</text>
<text x="153.81" y="191.4" font-size="6.2" text-anchor="middle" font-weight="normal" fill="#231f20" stroke="#231f20" stroke-width="0.12" textLength="3.1" lengthAdjust="spacingAndGlyphs" dominant-baseline="central">1</text>
<text x="208.2" y="166.3" font-size="5.4" text-anchor="start" font-weight="normal" fill="#231f20" stroke="#231f20" stroke-width="0.04" textLength="36" lengthAdjust="spacingAndGlyphs" dominant-baseline="central">Number at risk</text>
<rect x="208.5" y="172.5" width="127.60000000000002" height="26.900000000000006" fill="none" stroke="#231f20" stroke-width="1.4"/>
<line x1="189.7" y1="179.4" x2="204.1" y2="179.4" stroke="#d9665b" stroke-width="1.6"/>
<text x="213.8" y="178.8" font-size="6.2" text-anchor="middle" font-weight="normal" fill="#231f20" stroke="#231f20" stroke-width="0.12" textLength="3.1" lengthAdjust="spacingAndGlyphs" dominant-baseline="central">9</text>
<text x="223.865" y="178.8" font-size="6.2" text-anchor="middle" font-weight="normal" fill="#231f20" stroke="#231f20" stroke-width="0.12" textLength="3.1" lengthAdjust="spacingAndGlyphs" dominant-baseline="central">3</text>
<text x="233.93" y="178.8" font-size="6.2" text-anchor="middle" font-weight="normal" fill="#231f20" stroke="#231f20" stroke-width="0.12" textLength="3.1" lengthAdjust="spacingAndGlyphs" dominant-baseline="central">3</text>
<text x="243.995" y="178.8" font-size="6.2" text-anchor="middle" font-weight="normal" fill="#231f20" stroke="#231f20" stroke-width="0.12" textLength="3.1" lengthAdjust="spacingAndGlyphs" dominant-baseline="central">3</text>
<text x="254.06" y="178.8" font-size="6.2" text-anchor="middle" font-weight="normal" fill="#231f20" stroke="#231f20" stroke-width="0.12" textLength="3.1" lengthAdjust="spacingAndGlyphs" dominant-baseline="central">3</text>
<text x="264.125" y="178.8" font-size="6.2" text-anchor="middle" font-weight="normal" fill="#231f20" stroke="#231f20" stroke-width="0.12" textLength="3.1" lengthAdjust="spacingAndGlyphs" dominant-baseline="central">3</text>
<text x="274.19" y="178.8" font-size="6.2" text-anchor="middle" font-weight="normal" fill="#231f20" stroke="#231f20" stroke-width="0.12" textLength="3.1" lengthAdjust="spacingAndGlyphs" dominant-baseline="central">1</text>
<text x="284.255" y="178.8" font-size="6.2" text-anchor="middle" font-weight="normal" fill="#231f20" stroke="#231f20" stroke-width="0.12" textLength="3.1" lengthAdjust="spacingAndGlyphs" dominant-baseline="central">1</text>
<text x="294.32" y="178.8" font-size="6.2" text-anchor="middle" font-weight="normal" fill="#231f20" stroke="#231f20" stroke-width="0.12" textLength="3.1" lengthAdjust="spacingAndGlyphs" dominant-baseline="central">1</text>
<text x="304.385" y="178.8" font-size="6.2" text-anchor="middle" font-weight="normal" fill="#231f20" stroke="#231f20" stroke-width="0.12" textLength="3.1" lengthAdjust="spacingAndGlyphs" dominant-baseline="central">1</text>
<text x="314.45000000000005" y="178.8" font-size="6.2" text-anchor="middle" font-weight="normal" fill="#231f20" stroke="#231f20" stroke-width="0.12" textLength="3.1" lengthAdjust="spacingAndGlyphs" dominant-baseline="central">1</text>
<text x="324.515" y="178.8" font-size="6.2" text-anchor="middle" font-weight="normal" fill="#231f20" stroke="#231f20" stroke-width="0.12" textLength="3.1" lengthAdjust="spacingAndGlyphs" dominant-baseline="central">1</text>
<line x1="189.7" y1="192.0" x2="204.1" y2="192.0" stroke="#52a9b3" stroke-width="1.6"/>
<text x="213.8" y="191.4" font-size="6.2" text-anchor="middle" font-weight="normal" fill="#231f20" stroke="#231f20" stroke-width="0.12" textLength="3.1" lengthAdjust="spacingAndGlyphs" dominant-baseline="central">9</text>
<text x="223.865" y="191.4" font-size="6.2" text-anchor="middle" font-weight="normal" fill="#231f20" stroke="#231f20" stroke-width="0.12" textLength="3.1" lengthAdjust="spacingAndGlyphs" dominant-baseline="central">7</text>
<text x="233.93" y="191.4" font-size="6.2" text-anchor="middle" font-weight="normal" fill="#231f20" stroke="#231f20" stroke-width="0.12" textLength="3.1" lengthAdjust="spacingAndGlyphs" dominant-baseline="central">6</text>
<text x="243.995" y="191.4" font-size="6.2" text-anchor="middle" font-weight="normal" fill="#231f20" stroke="#231f20" stroke-width="0.12" textLength="3.1" lengthAdjust="spacingAndGlyphs" dominant-baseline="central">4</text>
<text x="254.06" y="191.4" font-size="6.2" text-anchor="middle" font-weight="normal" fill="#231f20" stroke="#231f20" stroke-width="0.12" textLength="3.1" lengthAdjust="spacingAndGlyphs" dominant-baseline="central">4</text>
<text x="264.125" y="191.4" font-size="6.2" text-anchor="middle" font-weight="normal" fill="#231f20" stroke="#231f20" stroke-width="0.12" textLength="3.1" lengthAdjust="spacingAndGlyphs" dominant-baseline="central">3</text>
<text x="274.19" y="191.4" font-size="6.2" text-anchor="middle" font-weight="normal" fill="#231f20" stroke="#231f20" stroke-width="0.12" textLength="3.1" lengthAdjust="spacingAndGlyphs" dominant-baseline="central">1</text>
<text x="284.255" y="191.4" font-size="6.2" text-anchor="middle" font-weight="normal" fill="#231f20" stroke="#231f20" stroke-width="0.12" textLength="3.1" lengthAdjust="spacingAndGlyphs" dominant-baseline="central">1</text>
<text x="294.32" y="191.4" font-size="6.2" text-anchor="middle" font-weight="normal" fill="#231f20" stroke="#231f20" stroke-width="0.12" textLength="3.1" lengthAdjust="spacingAndGlyphs" dominant-baseline="central">1</text>
<text x="304.385" y="191.4" font-size="6.2" text-anchor="middle" font-weight="normal" fill="#231f20" stroke="#231f20" stroke-width="0.12" textLength="3.1" lengthAdjust="spacingAndGlyphs" dominant-baseline="central">1</text>
<text x="314.45000000000005" y="191.4" font-size="6.2" text-anchor="middle" font-weight="normal" fill="#231f20" stroke="#231f20" stroke-width="0.12" textLength="3.1" lengthAdjust="spacingAndGlyphs" dominant-baseline="central">1</text>
<text x="324.515" y="191.4" font-size="6.2" text-anchor="middle" font-weight="normal" fill="#231f20" stroke="#231f20" stroke-width="0.12" textLength="3.1" lengthAdjust="spacingAndGlyphs" dominant-baseline="central">1</text>
<text x="377.3" y="166.3" font-size="5.4" text-anchor="start" font-weight="normal" fill="#231f20" stroke="#231f20" stroke-width="0.04" textLength="36" lengthAdjust="spacingAndGlyphs" dominant-baseline="central">Number at risk</text>
<rect x="377.6" y="172.5" width="127.5" height="26.900000000000006" fill="none" stroke="#231f20" stroke-width="1.4"/>
<line x1="358.8" y1="179.4" x2="373.20000000000005" y2="179.4" stroke="#d9665b" stroke-width="1.6"/>
<text x="383.1" y="178.8" font-size="6.2" text-anchor="middle" font-weight="normal" fill="#231f20" stroke="#231f20" stroke-width="0.12" textLength="6.2" lengthAdjust="spacingAndGlyphs" dominant-baseline="central">21</text>
<text x="393.49800000000005" y="178.8" font-size="6.2" text-anchor="middle" font-weight="normal" fill="#231f20" stroke="#231f20" stroke-width="0.12" textLength="3.1" lengthAdjust="spacingAndGlyphs" dominant-baseline="central">5</text>
<text x="403.896" y="178.8" font-size="6.2" text-anchor="middle" font-weight="normal" fill="#231f20" stroke="#231f20" stroke-width="0.12" textLength="3.1" lengthAdjust="spacingAndGlyphs" dominant-baseline="central">3</text>
<text x="414.29400000000004" y="178.8" font-size="6.2" text-anchor="middle" font-weight="normal" fill="#231f20" stroke="#231f20" stroke-width="0.12" textLength="3.1" lengthAdjust="spacingAndGlyphs" dominant-baseline="central">2</text>
<text x="424.692" y="178.8" font-size="6.2" text-anchor="middle" font-weight="normal" fill="#231f20" stroke="#231f20" stroke-width="0.12" textLength="3.1" lengthAdjust="spacingAndGlyphs" dominant-baseline="central">0</text>
<text x="435.09000000000003" y="178.8" font-size="6.2" text-anchor="middle" font-weight="normal" fill="#231f20" stroke="#231f20" stroke-width="0.12" textLength="3.1" lengthAdjust="spacingAndGlyphs" dominant-baseline="central">0</text>
<text x="445.48800000000006" y="178.8" font-size="6.2" text-anchor="middle" font-weight="normal" fill="#231f20" stroke="#231f20" stroke-width="0.12" textLength="3.1" lengthAdjust="spacingAndGlyphs" dominant-baseline="central">0</text>
<text x="455.886" y="178.8" font-size="6.2" text-anchor="middle" font-weight="normal" fill="#231f20" stroke="#231f20" stroke-width="0.12" textLength="3.1" lengthAdjust="spacingAndGlyphs" dominant-baseline="central">0</text>
<text x="466.284" y="178.8" font-size="6.2" text-anchor="middle" font-weight="normal" fill="#231f20" stroke="#231f20" stroke-width="0.12" textLength="3.1" lengthAdjust="spacingAndGlyphs" dominant-baseline="central">0</text>
<text x="476.682" y="178.8" font-size="6.2" text-anchor="middle" font-weight="normal" fill="#231f20" stroke="#231f20" stroke-width="0.12" textLength="3.1" lengthAdjust="spacingAndGlyphs" dominant-baseline="central">0</text>
<text x="487.08000000000004" y="178.8" font-size="6.2" text-anchor="middle" font-weight="normal" fill="#231f20" stroke="#231f20" stroke-width="0.12" textLength="3.1" lengthAdjust="spacingAndGlyphs" dominant-baseline="central">0</text>
<text x="497.478" y="178.8" font-size="6.2" text-anchor="middle" font-weight="normal" fill="#231f20" stroke="#231f20" stroke-width="0.12" textLength="3.1" lengthAdjust="spacingAndGlyphs" dominant-baseline="central">0</text>
<line x1="358.8" y1="192.0" x2="373.20000000000005" y2="192.0" stroke="#52a9b3" stroke-width="1.6"/>
<text x="383.1" y="191.4" font-size="6.2" text-anchor="middle" font-weight="normal" fill="#231f20" stroke="#231f20" stroke-width="0.12" textLength="6.2" lengthAdjust="spacingAndGlyphs" dominant-baseline="central">21</text>
<text x="393.49800000000005" y="191.4" font-size="6.2" text-anchor="middle" font-weight="normal" fill="#231f20" stroke="#231f20" stroke-width="0.12" textLength="6.2" lengthAdjust="spacingAndGlyphs" dominant-baseline="central">13</text>
<text x="403.896" y="191.4" font-size="6.2" text-anchor="middle" font-weight="normal" fill="#231f20" stroke="#231f20" stroke-width="0.12" textLength="6.2" lengthAdjust="spacingAndGlyphs" dominant-baseline="central">10</text>
<text x="414.29400000000004" y="191.4" font-size="6.2" text-anchor="middle" font-weight="normal" fill="#231f20" stroke="#231f20" stroke-width="0.12" textLength="3.1" lengthAdjust="spacingAndGlyphs" dominant-baseline="central">7</text>
<text x="424.692" y="191.4" font-size="6.2" text-anchor="middle" font-weight="normal" fill="#231f20" stroke="#231f20" stroke-width="0.12" textLength="3.1" lengthAdjust="spacingAndGlyphs" dominant-baseline="central">4</text>
<text x="435.09000000000003" y="191.4" font-size="6.2" text-anchor="middle" font-weight="normal" fill="#231f20" stroke="#231f20" stroke-width="0.12" textLength="3.1" lengthAdjust="spacingAndGlyphs" dominant-baseline="central">4</text>
<text x="445.48800000000006" y="191.4" font-size="6.2" text-anchor="middle" font-weight="normal" fill="#231f20" stroke="#231f20" stroke-width="0.12" textLength="3.1" lengthAdjust="spacingAndGlyphs" dominant-baseline="central">4</text>
<text x="455.886" y="191.4" font-size="6.2" text-anchor="middle" font-weight="normal" fill="#231f20" stroke="#231f20" stroke-width="0.12" textLength="3.1" lengthAdjust="spacingAndGlyphs" dominant-baseline="central">3</text>
<text x="466.284" y="191.4" font-size="6.2" text-anchor="middle" font-weight="normal" fill="#231f20" stroke="#231f20" stroke-width="0.12" textLength="3.1" lengthAdjust="spacingAndGlyphs" dominant-baseline="central">2</text>
<text x="476.682" y="191.4" font-size="6.2" text-anchor="middle" font-weight="normal" fill="#231f20" stroke="#231f20" stroke-width="0.12" textLength="3.1" lengthAdjust="spacingAndGlyphs" dominant-baseline="central">2</text>
<text x="487.08000000000004" y="191.4" font-size="6.2" text-anchor="middle" font-weight="normal" fill="#231f20" stroke="#231f20" stroke-width="0.12" textLength="3.1" lengthAdjust="spacingAndGlyphs" dominant-baseline="central">2</text>
<text x="497.478" y="191.4" font-size="6.2" text-anchor="middle" font-weight="normal" fill="#231f20" stroke="#231f20" stroke-width="0.12" textLength="3.1" lengthAdjust="spacingAndGlyphs" dominant-baseline="central">1</text>
<rect x="39.25" y="240.5" width="213.25" height="104.5" fill="none" stroke="#231f20" stroke-width="1.3"/>
<line x1="36.25" y1="245.0" x2="39.25" y2="245.0" stroke="#231f20" stroke-width="1.1"/>
<text x="33.15" y="245.0" font-size="6.3" text-anchor="end" font-weight="normal" fill="#231f20" stroke="#231f20" stroke-width="0.12" textLength="13.4" lengthAdjust="spacingAndGlyphs" dominant-baseline="central">1.00</text>
<line x1="36.25" y1="268.75" x2="39.25" y2="268.75" stroke="#231f20" stroke-width="1.1"/>
<text x="33.15" y="268.75" font-size="6.3" text-anchor="end" font-weight="normal" fill="#231f20" stroke="#231f20" stroke-width="0.12" textLength="13.4" lengthAdjust="spacingAndGlyphs" dominant-baseline="central">0.75</text>
<line x1="36.25" y1="292.5" x2="39.25" y2="292.5" stroke="#231f20" stroke-width="1.1"/>
<text x="33.15" y="292.5" font-size="6.3" text-anchor="end" font-weight="normal" fill="#231f20" stroke="#231f20" stroke-width="0.12" textLength="13.4" lengthAdjust="spacingAndGlyphs" dominant-baseline="central">0.50</text>
<line x1="36.25" y1="316.25" x2="39.25" y2="316.25" stroke="#231f20" stroke-width="1.1"/>
<text x="33.15" y="316.25" font-size="6.3" text-anchor="end" font-weight="normal" fill="#231f20" stroke="#231f20" stroke-width="0.12" textLength="13.4" lengthAdjust="spacingAndGlyphs" dominant-baseline="central">0.25</text>
<line x1="36.25" y1="340.0" x2="39.25" y2="340.0" stroke="#231f20" stroke-width="1.1"/>
<text x="33.15" y="340.0" font-size="6.3" text-anchor="end" font-weight="normal" fill="#231f20" stroke="#231f20" stroke-width="0.12" textLength="13.4" lengthAdjust="spacingAndGlyphs" dominant-baseline="central">0.00</text>
<line x1="43.25" y1="345.0" x2="43.25" y2="348.2" stroke="#231f20" stroke-width="1.1"/>
<text x="43.25" y="354.5" font-size="6.3" text-anchor="middle" font-weight="normal" fill="#231f20" stroke="#231f20" stroke-width="0.12" textLength="3.3" lengthAdjust="spacingAndGlyphs" dominant-baseline="central">0</text>
<line x1="61.19" y1="345.0" x2="61.19" y2="348.2" stroke="#231f20" stroke-width="1.1"/>
<text x="61.19" y="354.5" font-size="6.3" text-anchor="middle" font-weight="normal" fill="#231f20" stroke="#231f20" stroke-width="0.12" textLength="3.3" lengthAdjust="spacingAndGlyphs" dominant-baseline="central">3</text>
<line x1="79.13" y1="345.0" x2="79.13" y2="348.2" stroke="#231f20" stroke-width="1.1"/>
<text x="79.13" y="354.5" font-size="6.3" text-anchor="middle" font-weight="normal" fill="#231f20" stroke="#231f20" stroke-width="0.12" textLength="3.3" lengthAdjust="spacingAndGlyphs" dominant-baseline="central">6</text>
<line x1="97.07000000000001" y1="345.0" x2="97.07000000000001" y2="348.2" stroke="#231f20" stroke-width="1.1"/>
<text x="97.07000000000001" y="354.5" font-size="6.3" text-anchor="middle" font-weight="normal" fill="#231f20" stroke="#231f20" stroke-width="0.12" textLength="3.3" lengthAdjust="spacingAndGlyphs" dominant-baseline="central">9</text>
<line x1="115.01" y1="345.0" x2="115.01" y2="348.2" stroke="#231f20" stroke-width="1.1"/>
<text x="115.01" y="354.5" font-size="6.3" text-anchor="middle" font-weight="normal" fill="#231f20" stroke="#231f20" stroke-width="0.12" textLength="7.2" lengthAdjust="spacingAndGlyphs" dominant-baseline="central">12</text>
<line x1="132.95" y1="345.0" x2="132.95" y2="348.2" stroke="#231f20" stroke-width="1.1"/>
<text x="132.95" y="354.5" font-size="6.3" text-anchor="middle" font-weight="normal" fill="#231f20" stroke="#231f20" stroke-width="0.12" textLength="7.2" lengthAdjust="spacingAndGlyphs" dominant-baseline="central">15</text>
<line x1="150.89000000000001" y1="345.0" x2="150.89000000000001" y2="348.2" stroke="#231f20" stroke-width="1.1"/>
<text x="150.89000000000001" y="354.5" font-size="6.3" text-anchor="middle" font-weight="normal" fill="#231f20" stroke="#231f20" stroke-width="0.12" textLength="7.2" lengthAdjust="spacingAndGlyphs" dominant-baseline="central">18</text>
<line x1="168.83" y1="345.0" x2="168.83" y2="348.2" stroke="#231f20" stroke-width="1.1"/>
<text x="168.83" y="354.5" font-size="6.3" text-anchor="middle" font-weight="normal" fill="#231f20" stroke="#231f20" stroke-width="0.12" textLength="7.2" lengthAdjust="spacingAndGlyphs" dominant-baseline="central">21</text>
<line x1="186.77" y1="345.0" x2="186.77" y2="348.2" stroke="#231f20" stroke-width="1.1"/>
<text x="186.77" y="354.5" font-size="6.3" text-anchor="middle" font-weight="normal" fill="#231f20" stroke="#231f20" stroke-width="0.12" textLength="7.2" lengthAdjust="spacingAndGlyphs" dominant-baseline="central">24</text>
<line x1="204.71" y1="345.0" x2="204.71" y2="348.2" stroke="#231f20" stroke-width="1.1"/>
<text x="204.71" y="354.5" font-size="6.3" text-anchor="middle" font-weight="normal" fill="#231f20" stroke="#231f20" stroke-width="0.12" textLength="7.2" lengthAdjust="spacingAndGlyphs" dominant-baseline="central">27</text>
<line x1="222.65" y1="345.0" x2="222.65" y2="348.2" stroke="#231f20" stroke-width="1.1"/>
<text x="222.65" y="354.5" font-size="6.3" text-anchor="middle" font-weight="normal" fill="#231f20" stroke="#231f20" stroke-width="0.12" textLength="7.2" lengthAdjust="spacingAndGlyphs" dominant-baseline="central">30</text>
<line x1="240.59" y1="345.0" x2="240.59" y2="348.2" stroke="#231f20" stroke-width="1.1"/>
<text x="240.59" y="354.5" font-size="6.3" text-anchor="middle" font-weight="normal" fill="#231f20" stroke="#231f20" stroke-width="0.12" textLength="7.2" lengthAdjust="spacingAndGlyphs" dominant-baseline="central">33</text>
<text x="145.875" y="366.0" font-size="9.7" text-anchor="middle" font-weight="normal" fill="#231f20" stroke="#231f20" stroke-width="0.18" textLength="60" lengthAdjust="spacingAndGlyphs" dominant-baseline="central">Months after CART2</text>
<text x="11.6" y="292.85" font-size="8.2" text-anchor="middle" font-weight="normal" fill="#231f20" stroke="#231f20" stroke-width="0.18" textLength="47" lengthAdjust="spacingAndGlyphs" transform="rotate(-90 11.6 292.85)" dominant-baseline="central">Overall survival</text>
<text x="71.25" y="234.3" font-size="6.0" text-anchor="start" font-weight="normal" fill="#231f20" stroke="#231f20" stroke-width="0.12" textLength="75" lengthAdjust="spacingAndGlyphs" dominant-baseline="central">Day−28 response after CART2</text>
<line x1="156.25" y1="234.3" x2="163.75" y2="234.3" stroke="#d9665b" stroke-width="1.3"/>
<line x1="160.0" y1="232.5" x2="160.0" y2="236.10000000000002" stroke="#d9665b" stroke-width="0.9"/>
<text x="167" y="234.3" font-size="6.6" text-anchor="start" font-weight="normal" fill="#231f20" stroke="#231f20" stroke-width="0.12" textLength="16.8" lengthAdjust="spacingAndGlyphs" dominant-baseline="central">SD/PD</text>
<line x1="193" y1="234.3" x2="201.25" y2="234.3" stroke="#52a9b3" stroke-width="1.3"/>
<line x1="197.125" y1="232.5" x2="197.125" y2="236.10000000000002" stroke="#52a9b3" stroke-width="0.9"/>
<text x="203.75" y="234.3" font-size="6.6" text-anchor="start" font-weight="normal" fill="#231f20" stroke="#231f20" stroke-width="0.12" textLength="16.3" lengthAdjust="spacingAndGlyphs" dominant-baseline="central">CR/PR</text>
<text x="202.5" y="263.6" font-size="6.2" text-anchor="start" font-weight="normal" fill="#231f20" stroke="#231f20" stroke-width="0.12" textLength="24.5" lengthAdjust="spacingAndGlyphs" dominant-baseline="central">p = 0.062</text>
<path d="M43.25,245.25 H62 V256 H64.25 V261.25 H69 V271 H76.1 V276 H83.6 V286 H99.4 V300 H125.5 V306.25 H130 V311.25 H157 V320 H187 V331.25 H252" fill="none" stroke="#52a9b3" stroke-width="1.1" stroke-dasharray="3.4 2.1"/>
<path d="M43.25,245.25 H99.25 V252.5 H125.5 V257.5 H130 V262.5 H156.25 V266.75 H187 V268.75 H252" fill="none" stroke="#52a9b3" stroke-width="1.1" stroke-dasharray="3.4 2.1"/>
<path d="M54.25,245.25 H55 V250 H56.5 V254 H58 V258 H59.5 V262 H61 V265 H62.5 V268 H64.25 V271.25 H71.1 V273.75 H75.5 V277 H79.9 V279.75 H86.25 V284.4 H103.1 V288.1 H121.9 V291.9 H134.4 V295.4 H171.25 V299.5 H252" fill="none" stroke="#d9665b" stroke-width="1.1" stroke-dasharray="3.4 2.1"/>
<path d="M48,245.25 V248.75 H49.5 V254 H51 V260 H52.5 V266 H54 V272 H55.5 V278 H57 V283 H58.5 V288 H60.5 V292 H62 V299 H63.75 V307 H72 V310.5 H79.5 V315 H82 V317.5 H86.25 V319.5 H103 V322.5 H122 V325.6 H134.4 V328.2 H170.75 V332 H252" fill="none" stroke="#d9665b" stroke-width="1.1" stroke-dasharray="3.4 2.1"/>
<path d="M43.25,245.25 H62 V251.25 H69 V256.9 H76.1 V263.1 H83.6 V269 H99.4 V281 H125.5 V287 H130 V292.3 H157 V302.3 H187 V315 H252" fill="none" stroke="#52a9b3" stroke-width="1.5"/>
<line x1="136.25" y1="290.1" x2="136.25" y2="294.5" stroke="#52a9b3" stroke-width="1.0"/>
<line x1="142.5" y1="290.1" x2="142.5" y2="294.5" stroke="#52a9b3" stroke-width="1.0"/>
<line x1="150.6" y1="290.1" x2="150.6" y2="294.5" stroke="#52a9b3" stroke-width="1.0"/>
<line x1="174.5" y1="300.1" x2="174.5" y2="304.5" stroke="#52a9b3" stroke-width="1.0"/>
<path d="M48,245.25 V247.75 H53 V251.14 H53.83 V254.53 H54.66 V257.92 H55.49 V261.31 H56.32 V264.70 H57.15 V268.09 H57.98 V271.48 H58.81 V274.87 H59.64 V278.26 H60.47 V281.65 H61.30 V285.04 H62.13 V288.43 H62.96 V291.82 H63.79 V292.5 H72 V296.25 H79.5 V299.5 H82 V303 H86.5 V306 H102.75 V309.5 H121.5 V313.25 H133.75 V317.5 H170.75 V322 H252" fill="none" stroke="#d9665b" stroke-width="1.5"/>
<line x1="121.9" y1="311.05" x2="121.9" y2="315.45" stroke="#d9665b" stroke-width="1.0"/>
<line x1="141.25" y1="315.3" x2="141.25" y2="319.7" stroke="#d9665b" stroke-width="1.0"/>
<line x1="215" y1="319.8" x2="215" y2="324.2" stroke="#d9665b" stroke-width="1.0"/>
<text x="37.0" y="377.2" font-size="5.4" text-anchor="start" font-weight="normal" fill="#231f20" stroke="#231f20" stroke-width="0.04" textLength="36" lengthAdjust="spacingAndGlyphs" dominant-baseline="central">Number at risk</text>
<rect x="36.75" y="383.75" width="215.55" height="26.850000000000023" fill="none" stroke="#231f20" stroke-width="1.4"/>
<line x1="18" y1="391.0" x2="32.5" y2="391.0" stroke="#d9665b" stroke-width="1.6"/>
<text x="40.6" y="390.4" font-size="6.2" text-anchor="middle" font-weight="normal" fill="#231f20" stroke="#231f20" stroke-width="0.12" textLength="6.2" lengthAdjust="spacingAndGlyphs" dominant-baseline="central">28</text>
<text x="58.75" y="390.4" font-size="6.2" text-anchor="middle" font-weight="normal" fill="#231f20" stroke="#231f20" stroke-width="0.12" textLength="6.2" lengthAdjust="spacingAndGlyphs" dominant-baseline="central">19</text>
<text x="76.9" y="390.4" font-size="6.2" text-anchor="middle" font-weight="normal" fill="#231f20" stroke="#231f20" stroke-width="0.12" textLength="6.2" lengthAdjust="spacingAndGlyphs" dominant-baseline="central">13</text>
<text x="95.05" y="390.4" font-size="6.2" text-anchor="middle" font-weight="normal" fill="#231f20" stroke="#231f20" stroke-width="0.12" textLength="6.2" lengthAdjust="spacingAndGlyphs" dominant-baseline="central">10</text>
<text x="113.19999999999999" y="390.4" font-size="6.2" text-anchor="middle" font-weight="normal" fill="#231f20" stroke="#231f20" stroke-width="0.12" textLength="3.1" lengthAdjust="spacingAndGlyphs" dominant-baseline="central">9</text>
<text x="131.35" y="390.4" font-size="6.2" text-anchor="middle" font-weight="normal" fill="#231f20" stroke="#231f20" stroke-width="0.12" textLength="3.1" lengthAdjust="spacingAndGlyphs" dominant-baseline="central">7</text>
<text x="149.5" y="390.4" font-size="6.2" text-anchor="middle" font-weight="normal" fill="#231f20" stroke="#231f20" stroke-width="0.12" textLength="3.1" lengthAdjust="spacingAndGlyphs" dominant-baseline="central">5</text>
<text x="167.65" y="390.4" font-size="6.2" text-anchor="middle" font-weight="normal" fill="#231f20" stroke="#231f20" stroke-width="0.12" textLength="3.1" lengthAdjust="spacingAndGlyphs" dominant-baseline="central">5</text>
<text x="185.79999999999998" y="390.4" font-size="6.2" text-anchor="middle" font-weight="normal" fill="#231f20" stroke="#231f20" stroke-width="0.12" textLength="3.1" lengthAdjust="spacingAndGlyphs" dominant-baseline="central">4</text>
<text x="203.95" y="390.4" font-size="6.2" text-anchor="middle" font-weight="normal" fill="#231f20" stroke="#231f20" stroke-width="0.12" textLength="3.1" lengthAdjust="spacingAndGlyphs" dominant-baseline="central">4</text>
<text x="222.1" y="390.4" font-size="6.2" text-anchor="middle" font-weight="normal" fill="#231f20" stroke="#231f20" stroke-width="0.12" textLength="3.1" lengthAdjust="spacingAndGlyphs" dominant-baseline="central">3</text>
<text x="240.25" y="390.4" font-size="6.2" text-anchor="middle" font-weight="normal" fill="#231f20" stroke="#231f20" stroke-width="0.12" textLength="3.1" lengthAdjust="spacingAndGlyphs" dominant-baseline="central">3</text>
<line x1="18" y1="403.0" x2="32.5" y2="403.0" stroke="#52a9b3" stroke-width="1.6"/>
<text x="40.6" y="402.4" font-size="6.2" text-anchor="middle" font-weight="normal" fill="#231f20" stroke="#231f20" stroke-width="0.12" textLength="6.2" lengthAdjust="spacingAndGlyphs" dominant-baseline="central">16</text>
<text x="58.75" y="402.4" font-size="6.2" text-anchor="middle" font-weight="normal" fill="#231f20" stroke="#231f20" stroke-width="0.12" textLength="6.2" lengthAdjust="spacingAndGlyphs" dominant-baseline="central">16</text>
<text x="76.9" y="402.4" font-size="6.2" text-anchor="middle" font-weight="normal" fill="#231f20" stroke="#231f20" stroke-width="0.12" textLength="6.2" lengthAdjust="spacingAndGlyphs" dominant-baseline="central">13</text>
<text x="95.05" y="402.4" font-size="6.2" text-anchor="middle" font-weight="normal" fill="#231f20" stroke="#231f20" stroke-width="0.12" textLength="6.2" lengthAdjust="spacingAndGlyphs" dominant-baseline="central">12</text>
<text x="113.19999999999999" y="402.4" font-size="6.2" text-anchor="middle" font-weight="normal" fill="#231f20" stroke="#231f20" stroke-width="0.12" textLength="6.2" lengthAdjust="spacingAndGlyphs" dominant-baseline="central">10</text>
<text x="131.35" y="402.4" font-size="6.2" text-anchor="middle" font-weight="normal" fill="#231f20" stroke="#231f20" stroke-width="0.12" textLength="3.1" lengthAdjust="spacingAndGlyphs" dominant-baseline="central">8</text>
<text x="149.5" y="402.4" font-size="6.2" text-anchor="middle" font-weight="normal" fill="#231f20" stroke="#231f20" stroke-width="0.12" textLength="3.1" lengthAdjust="spacingAndGlyphs" dominant-baseline="central">5</text>
<text x="167.65" y="402.4" font-size="6.2" text-anchor="middle" font-weight="normal" fill="#231f20" stroke="#231f20" stroke-width="0.12" textLength="3.1" lengthAdjust="spacingAndGlyphs" dominant-baseline="central">4</text>
<text x="185.79999999999998" y="402.4" font-size="6.2" text-anchor="middle" font-weight="normal" fill="#231f20" stroke="#231f20" stroke-width="0.12" textLength="3.1" lengthAdjust="spacingAndGlyphs" dominant-baseline="central">3</text>
<text x="203.95" y="402.4" font-size="6.2" text-anchor="middle" font-weight="normal" fill="#231f20" stroke="#231f20" stroke-width="0.12" textLength="3.1" lengthAdjust="spacingAndGlyphs" dominant-baseline="central">2</text>
<text x="222.1" y="402.4" font-size="6.2" text-anchor="middle" font-weight="normal" fill="#231f20" stroke="#231f20" stroke-width="0.12" textLength="3.1" lengthAdjust="spacingAndGlyphs" dominant-baseline="central">2</text>
<text x="240.25" y="402.4" font-size="6.2" text-anchor="middle" font-weight="normal" fill="#231f20" stroke="#231f20" stroke-width="0.12" textLength="3.1" lengthAdjust="spacingAndGlyphs" dominant-baseline="central">2</text>
<rect x="299.4" y="240.4" width="213.10000000000002" height="104.9" fill="none" stroke="#231f20" stroke-width="1.3"/>
<line x1="296.4" y1="245.3" x2="299.4" y2="245.3" stroke="#231f20" stroke-width="1.1"/>
<text x="293.29999999999995" y="245.3" font-size="6.3" text-anchor="end" font-weight="normal" fill="#231f20" stroke="#231f20" stroke-width="0.12" textLength="13.4" lengthAdjust="spacingAndGlyphs" dominant-baseline="central">1.00</text>
<line x1="296.4" y1="269.175" x2="299.4" y2="269.175" stroke="#231f20" stroke-width="1.1"/>
<text x="293.29999999999995" y="269.175" font-size="6.3" text-anchor="end" font-weight="normal" fill="#231f20" stroke="#231f20" stroke-width="0.12" textLength="13.4" lengthAdjust="spacingAndGlyphs" dominant-baseline="central">0.75</text>
<line x1="296.4" y1="293.05" x2="299.4" y2="293.05" stroke="#231f20" stroke-width="1.1"/>
<text x="293.29999999999995" y="293.05" font-size="6.3" text-anchor="end" font-weight="normal" fill="#231f20" stroke="#231f20" stroke-width="0.12" textLength="13.4" lengthAdjust="spacingAndGlyphs" dominant-baseline="central">0.50</text>
<line x1="296.4" y1="316.925" x2="299.4" y2="316.925" stroke="#231f20" stroke-width="1.1"/>
<text x="293.29999999999995" y="316.925" font-size="6.3" text-anchor="end" font-weight="normal" fill="#231f20" stroke="#231f20" stroke-width="0.12" textLength="13.4" lengthAdjust="spacingAndGlyphs" dominant-baseline="central">0.25</text>
<line x1="296.4" y1="340.8" x2="299.4" y2="340.8" stroke="#231f20" stroke-width="1.1"/>
<text x="293.29999999999995" y="340.8" font-size="6.3" text-anchor="end" font-weight="normal" fill="#231f20" stroke="#231f20" stroke-width="0.12" textLength="13.4" lengthAdjust="spacingAndGlyphs" dominant-baseline="central">0.00</text>
<line x1="304.0" y1="345.3" x2="304.0" y2="348.5" stroke="#231f20" stroke-width="1.1"/>
<text x="304.0" y="354.5" font-size="6.3" text-anchor="middle" font-weight="normal" fill="#231f20" stroke="#231f20" stroke-width="0.12" textLength="3.3" lengthAdjust="spacingAndGlyphs" dominant-baseline="central">0</text>
<line x1="321.91" y1="345.3" x2="321.91" y2="348.5" stroke="#231f20" stroke-width="1.1"/>
<text x="321.91" y="354.5" font-size="6.3" text-anchor="middle" font-weight="normal" fill="#231f20" stroke="#231f20" stroke-width="0.12" textLength="3.3" lengthAdjust="spacingAndGlyphs" dominant-baseline="central">3</text>
<line x1="339.82" y1="345.3" x2="339.82" y2="348.5" stroke="#231f20" stroke-width="1.1"/>
<text x="339.82" y="354.5" font-size="6.3" text-anchor="middle" font-weight="normal" fill="#231f20" stroke="#231f20" stroke-width="0.12" textLength="3.3" lengthAdjust="spacingAndGlyphs" dominant-baseline="central">6</text>
<line x1="357.73" y1="345.3" x2="357.73" y2="348.5" stroke="#231f20" stroke-width="1.1"/>
<text x="357.73" y="354.5" font-size="6.3" text-anchor="middle" font-weight="normal" fill="#231f20" stroke="#231f20" stroke-width="0.12" textLength="3.3" lengthAdjust="spacingAndGlyphs" dominant-baseline="central">9</text>
<line x1="375.64" y1="345.3" x2="375.64" y2="348.5" stroke="#231f20" stroke-width="1.1"/>
<text x="375.64" y="354.5" font-size="6.3" text-anchor="middle" font-weight="normal" fill="#231f20" stroke="#231f20" stroke-width="0.12" textLength="7.2" lengthAdjust="spacingAndGlyphs" dominant-baseline="central">12</text>
<line x1="393.55" y1="345.3" x2="393.55" y2="348.5" stroke="#231f20" stroke-width="1.1"/>
<text x="393.55" y="354.5" font-size="6.3" text-anchor="middle" font-weight="normal" fill="#231f20" stroke="#231f20" stroke-width="0.12" textLength="7.2" lengthAdjust="spacingAndGlyphs" dominant-baseline="central">15</text>
<line x1="411.46" y1="345.3" x2="411.46" y2="348.5" stroke="#231f20" stroke-width="1.1"/>
<text x="411.46" y="354.5" font-size="6.3" text-anchor="middle" font-weight="normal" fill="#231f20" stroke="#231f20" stroke-width="0.12" textLength="7.2" lengthAdjust="spacingAndGlyphs" dominant-baseline="central">18</text>
<line x1="429.37" y1="345.3" x2="429.37" y2="348.5" stroke="#231f20" stroke-width="1.1"/>
<text x="429.37" y="354.5" font-size="6.3" text-anchor="middle" font-weight="normal" fill="#231f20" stroke="#231f20" stroke-width="0.12" textLength="7.2" lengthAdjust="spacingAndGlyphs" dominant-baseline="central">21</text>
<line x1="447.28" y1="345.3" x2="447.28" y2="348.5" stroke="#231f20" stroke-width="1.1"/>
<text x="447.28" y="354.5" font-size="6.3" text-anchor="middle" font-weight="normal" fill="#231f20" stroke="#231f20" stroke-width="0.12" textLength="7.2" lengthAdjust="spacingAndGlyphs" dominant-baseline="central">24</text>
<line x1="465.19" y1="345.3" x2="465.19" y2="348.5" stroke="#231f20" stroke-width="1.1"/>
<text x="465.19" y="354.5" font-size="6.3" text-anchor="middle" font-weight="normal" fill="#231f20" stroke="#231f20" stroke-width="0.12" textLength="7.2" lengthAdjust="spacingAndGlyphs" dominant-baseline="central">27</text>
<line x1="483.1" y1="345.3" x2="483.1" y2="348.5" stroke="#231f20" stroke-width="1.1"/>
<text x="483.1" y="354.5" font-size="6.3" text-anchor="middle" font-weight="normal" fill="#231f20" stroke="#231f20" stroke-width="0.12" textLength="7.2" lengthAdjust="spacingAndGlyphs" dominant-baseline="central">30</text>
<line x1="501.01" y1="345.3" x2="501.01" y2="348.5" stroke="#231f20" stroke-width="1.1"/>
<text x="501.01" y="354.5" font-size="6.3" text-anchor="middle" font-weight="normal" fill="#231f20" stroke="#231f20" stroke-width="0.12" textLength="7.2" lengthAdjust="spacingAndGlyphs" dominant-baseline="central">33</text>
<text x="405.95" y="366.0" font-size="9.7" text-anchor="middle" font-weight="normal" fill="#231f20" stroke="#231f20" stroke-width="0.18" textLength="60" lengthAdjust="spacingAndGlyphs" dominant-baseline="central">Months after CART2</text>
<text x="272.9" y="293.35" font-size="8.2" text-anchor="middle" font-weight="normal" fill="#231f20" stroke="#231f20" stroke-width="0.18" textLength="79" lengthAdjust="spacingAndGlyphs" transform="rotate(-90 272.9 293.35)" dominant-baseline="central">Progression−free survival</text>
<line x1="362.5" y1="234.3" x2="370" y2="234.3" stroke="#d9665b" stroke-width="1.3"/>
<line x1="366.25" y1="232.5" x2="366.25" y2="236.10000000000002" stroke="#d9665b" stroke-width="0.9"/>
<text x="373" y="234.3" font-size="6.6" text-anchor="start" font-weight="normal" fill="#231f20" stroke="#231f20" stroke-width="0.12" textLength="77" lengthAdjust="spacingAndGlyphs" dominant-baseline="central">CR/PR patients (best response)</text>
<path d="M304.5,245.3 H326.25 V252.5 H337 V261.25 H353.75 V265.75 H357.5 V271.25 H376.25 V276.25 H417 V278 H434.5" fill="none" stroke="#d9665b" stroke-width="1.1" stroke-dasharray="3.4 2.1"/>
<path d="M312.5,245.3 V260.5 H320.75 V277.5 H322.5 V284 H326.25 V291.25 H329.5 V297 H337 V307.5 H353.75 V312.5 H357.5 V318 H376.25 V322.5 H417.5 V332.5 H435" fill="none" stroke="#d9665b" stroke-width="1.1" stroke-dasharray="3.4 2.1"/>
<path d="M304.5,245.3 H312.5 V250.75 H320.75 V262 H322.5 V267.5 H326.25 V273.25 H329.5 V278.75 H337 V290 H353.75 V295.5 H357.5 V301.25 H376.25 V307 H417 V318 H502.5 V339.5" fill="none" stroke="#d9665b" stroke-width="1.5"/>
<line x1="397.5" y1="304.8" x2="397.5" y2="309.2" stroke="#d9665b" stroke-width="1.0"/>
<line x1="403.75" y1="304.8" x2="403.75" y2="309.2" stroke="#d9665b" stroke-width="1.0"/>
<line x1="411.25" y1="304.8" x2="411.25" y2="309.2" stroke="#d9665b" stroke-width="1.0"/>
<line x1="434.5" y1="315.8" x2="434.5" y2="320.2" stroke="#d9665b" stroke-width="1.0"/>
<text x="297.5" y="377.2" font-size="5.4" text-anchor="start" font-weight="normal" fill="#231f20" stroke="#231f20" stroke-width="0.04" textLength="36" lengthAdjust="spacingAndGlyphs" dominant-baseline="central">Number at risk</text>
<rect x="297.5" y="383.75" width="215.0" height="26.75" fill="none" stroke="#231f20" stroke-width="1.4"/>
<line x1="278.75" y1="397.0" x2="293.25" y2="397.0" stroke="#d9665b" stroke-width="1.6"/>
<text x="301.7" y="396.4" font-size="6.2" text-anchor="middle" font-weight="normal" fill="#231f20" stroke="#231f20" stroke-width="0.12" textLength="6.2" lengthAdjust="spacingAndGlyphs" dominant-baseline="central">17</text>
<text x="319.76" y="396.4" font-size="6.2" text-anchor="middle" font-weight="normal" fill="#231f20" stroke="#231f20" stroke-width="0.12" textLength="6.2" lengthAdjust="spacingAndGlyphs" dominant-baseline="central">14</text>
<text x="337.82" y="396.4" font-size="6.2" text-anchor="middle" font-weight="normal" fill="#231f20" stroke="#231f20" stroke-width="0.12" textLength="3.1" lengthAdjust="spacingAndGlyphs" dominant-baseline="central">9</text>
<text x="355.88" y="396.4" font-size="6.2" text-anchor="middle" font-weight="normal" fill="#231f20" stroke="#231f20" stroke-width="0.12" textLength="3.1" lengthAdjust="spacingAndGlyphs" dominant-baseline="central">8</text>
<text x="373.94" y="396.4" font-size="6.2" text-anchor="middle" font-weight="normal" fill="#231f20" stroke="#231f20" stroke-width="0.12" textLength="3.1" lengthAdjust="spacingAndGlyphs" dominant-baseline="central">7</text>
<text x="392.0" y="396.4" font-size="6.2" text-anchor="middle" font-weight="normal" fill="#231f20" stroke="#231f20" stroke-width="0.12" textLength="3.1" lengthAdjust="spacingAndGlyphs" dominant-baseline="central">6</text>
<text x="410.05999999999995" y="396.4" font-size="6.2" text-anchor="middle" font-weight="normal" fill="#231f20" stroke="#231f20" stroke-width="0.12" textLength="3.1" lengthAdjust="spacingAndGlyphs" dominant-baseline="central">3</text>
<text x="428.12" y="396.4" font-size="6.2" text-anchor="middle" font-weight="normal" fill="#231f20" stroke="#231f20" stroke-width="0.12" textLength="3.1" lengthAdjust="spacingAndGlyphs" dominant-baseline="central">2</text>
<text x="446.17999999999995" y="396.4" font-size="6.2" text-anchor="middle" font-weight="normal" fill="#231f20" stroke="#231f20" stroke-width="0.12" textLength="3.1" lengthAdjust="spacingAndGlyphs" dominant-baseline="central">1</text>
<text x="464.24" y="396.4" font-size="6.2" text-anchor="middle" font-weight="normal" fill="#231f20" stroke="#231f20" stroke-width="0.12" textLength="3.1" lengthAdjust="spacingAndGlyphs" dominant-baseline="central">1</text>
<text x="482.29999999999995" y="396.4" font-size="6.2" text-anchor="middle" font-weight="normal" fill="#231f20" stroke="#231f20" stroke-width="0.12" textLength="3.1" lengthAdjust="spacingAndGlyphs" dominant-baseline="central">1</text>
<text x="500.36" y="396.4" font-size="6.2" text-anchor="middle" font-weight="normal" fill="#231f20" stroke="#231f20" stroke-width="0.12" textLength="3.1" lengthAdjust="spacingAndGlyphs" dominant-baseline="central">1</text>
</g></svg>
</body></html>
